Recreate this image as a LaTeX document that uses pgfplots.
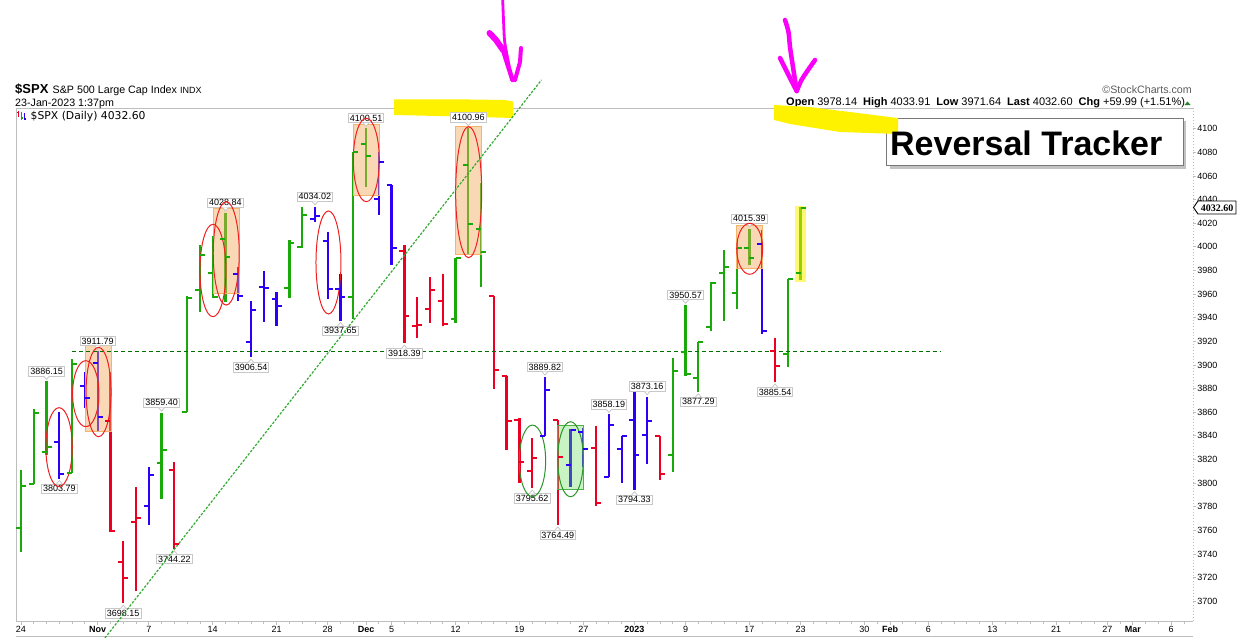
\documentclass[border=0pt]{standalone}
\usepackage{fontspec}
\setmainfont{Liberation Sans}
\newfontfamily\dvs{DejaVu Sans}
\newfontfamily\lsr{Liberation Serif}
\usepackage{pgfplots}
\pgfplotsset{compat=1.18}
\usepackage{pgfplotstable}

\definecolor{cgreen}{RGB}{25,170,10}
\definecolor{cred}{RGB}{235,0,35}
\definecolor{cblue}{RGB}{45,0,245}
\definecolor{frame}{RGB}{190,190,190}
\definecolor{labgray}{RGB}{200,200,200}
\definecolor{boxorange}{RGB}{242,170,90}
\definecolor{boxedge}{RGB}{245,180,105}
\definecolor{ellred}{RGB}{240,30,30}
\definecolor{ellgreen}{RGB}{40,150,40}
\definecolor{boxgreen}{RGB}{100,220,90}
\definecolor{pen}{RGB}{250,0,250}
\definecolor{trend}{RGB}{50,170,50}
\definecolor{hline}{RGB}{0,110,0}
\definecolor{copygray}{RGB}{90,90,90}
\definecolor{triup}{RGB}{40,130,40}
\definecolor{shadow}{RGB}{195,195,195}
\definecolor{tbox}{RGB}{120,120,120}

% open tick (left) and close tick (right)
\pgfdeclareplotmark{otick}{\pgfpathmoveto{\pgfpoint{-5bp}{0pt}}\pgfpathlineto{\pgfpoint{0pt}{0pt}}\pgfusepathqstroke}
\pgfdeclareplotmark{ctick}{\pgfpathmoveto{\pgfpoint{0pt}{0pt}}\pgfpathlineto{\pgfpoint{5bp}{0pt}}\pgfusepathqstroke}

\pgfplotsset{
  ohlcO/.style={only marks, mark=otick, mark options={draw=#1, line width=2bp},
    error bars/.cd, y dir=both, y explicit, error mark=none,
    error bar style={draw=#1, line width=2.3bp}},
  ohlcC/.style={only marks, mark=ctick, mark options={draw=#1, line width=2bp}},
}

% i = trading day from 24-Oct-2022
\pgfplotstableread{
i  O       H       L       C
0  3762.01 3810.74 3741.65 3797.34
1  3799.44 3862.85 3799.44 3859.11
2  3825.97 3886.15 3824.07 3830.60
4  3808.26 3905.42 3808.26 3901.06
11 3817.02 3859.40 3786.28 3828.11
13 3859.89 3958.33 3859.89 3956.37
14 3963.72 4001.48 3944.82 3992.93
15 3977.97 4008.97 3956.40 3957.25
16 4006.41 4028.84 3953.17 3991.73
21 3965.51 4005.88 3956.88 4003.58
22 4000.30 4033.78 3998.66 4027.26
26 3957.18 4080.11 3938.58 4080.11
27 4087.14 4100.51 4050.87 4076.57
34 3939.29 3990.71 3935.30 3990.56
35 4069.38 4100.96 3993.03 4019.65
36 4015.54 4053.76 3965.65 3995.32
51 3823.37 3906.19 3809.56 3895.08
52 3910.82 3950.57 3890.42 3892.09
53 3888.57 3919.83 3877.29 3919.25
54 3932.35 3970.07 3928.54 3969.61
55 3977.57 3997.76 3937.56 3983.17
56 3960.60 4003.95 3947.67 3999.09
57 3999.28 4015.39 3984.57 3990.97
60 3909.04 3972.96 3897.86 3972.61
61 3978.14 4033.91 3971.64 4032.60
}\greenbars

\pgfplotstableread{
i  O       H       L       C
3  3834.69 3859.95 3803.79 3807.30
5  3881.85 3893.73 3863.18 3871.98
6  3901.79 3911.79 3843.80 3856.10
10 3780.71 3813.95 3764.70 3806.80
17 3976.82 3983.09 3954.34 3958.79
18 3919.26 3954.33 3906.54 3946.56
19 3966.39 3979.89 3935.98 3965.34
20 3956.23 3962.00 3933.34 3949.94
23 4023.34 4034.02 4020.76 4026.12
24 4005.36 4012.27 3955.77 3963.94
25 3964.19 3976.77 3937.65 3957.63
28 4040.17 4080.48 4026.63 4071.70
29 4052.02 4052.45 3984.49 3998.84
41 3839.49 3889.82 3839.49 3878.44
43 3815.11 3845.80 3797.01 3844.82
44 3843.34 3846.65 3813.22 3829.25
46 3805.45 3858.19 3805.45 3849.28
47 3829.06 3839.85 3800.34 3839.50
48 3853.29 3878.46 3794.33 3824.14
49 3840.36 3873.16 3815.77 3852.97
58 4002.25 4014.16 3926.59 3928.86
}\bluebars

\pgfplotstableread{
i  O       H       L       C
7  3852.90 3894.44 3758.68 3759.69
8  3733.25 3750.59 3698.15 3719.89
9  3766.98 3796.34 3708.84 3770.55
12 3810.94 3818.20 3744.22 3748.57
30 3996.63 4001.51 3918.39 3941.26
31 3933.28 3957.57 3922.68 3933.92
32 3947.79 3974.19 3935.83 3963.51
33 3954.17 3977.02 3933.04 3934.38
37 3958.37 3958.37 3879.45 3895.75
38 3890.91 3890.91 3827.91 3852.36
39 3853.79 3854.86 3800.04 3817.66
40 3810.47 3838.24 3795.62 3821.62
42 3853.26 3853.26 3764.49 3822.39
45 3829.56 3848.32 3780.78 3783.22
50 3839.74 3839.74 3802.42 3808.10
59 3911.84 3922.94 3885.54 3898.85
}\redbars

\tikzset{lab/.style={draw=labgray, fill=white, line width=0.8bp, inner xsep=1.5bp, inner ysep=1.5bp,
  font=\fontsize{9bp}{10bp}\selectfont}}
% price labels above highs / below lows
\newcommand{\hi}[2]{\node[lab,anchor=south,yshift=5bp] (n) at (axis cs:#1,#2) {#2};
  \draw[labgray,fill=white,line width=0.8bp] ([xshift=-3bp,yshift=0.4bp]n.south) -- ++(3bp,-3.5bp) -- ++(3bp,3.5bp);}
\newcommand{\lo}[2]{\node[lab,anchor=north,yshift=-5bp] (n) at (axis cs:#1,#2) {#2};
  \draw[labgray,fill=white,line width=0.8bp] ([xshift=-3bp,yshift=-0.4bp]n.north) -- ++(3bp,3.5bp) -- ++(3bp,-3.5bp);}

\begin{document}
\begin{tikzpicture}
\path[use as bounding box] (0,0) rectangle (1250bp,-638bp);

\begin{scope}[x=1bp,y=-1bp]
\draw[frame, line width=1bp] (16,621.7) -- (16,108) -- (1193,108);
\draw[frame, line width=1bp] (16,621.7) -- (1193,621.7);
\draw[frame, line width=1bp] (16,636) -- (1193,636);
\draw[frame, line width=1bp, dotted] (1193,108) -- (1193,621.7);
% highlighter stroke near the December highs (under the labels)
\fill[yellow] (394,99.3) -- (470,99.5) -- (505,100) -- (513.3,101.5) -- (513.3,118) -- (460,116.5) -- (394,115) -- cycle;
\end{scope}

\begin{axis}[
  at={(16bp,-621.7bp)}, anchor=south west,
  scale only axis, width=1177bp, height=513.7bp,
  xmin=-0.39, xmax=91.71, ymin=3682.6, ymax=4117.6,
  axis line style={draw=none},
  clip=false,
  xtick={0,6,10,15,20,24,27,29,34,39,44,48,52,57,61,66,68,71,76,81,85,87,90},
  xticklabels={24,\textbf{Nov},7,14,21,28,\textbf{Dec},5,12,19,27,\textbf{2023},9,17,23,30,\textbf{Feb},6,13,21,27,\textbf{Mar},6},
  minor xtick={0,...,91},
  ytick={3700,3720,...,4100},
  xtick pos=left, ytick pos=right, yticklabel pos=right,
  tick align=outside,
  major tick length=3bp, minor tick length=2bp,
  every tick/.style={draw=frame, line width=0.8bp},
  scaled y ticks=false,
  ticklabel style={font=\fontsize{9bp}{10bp}\selectfont, text=black},
  xticklabel style={inner sep=1bp},
  yticklabel style={/pgf/number format/assume math mode=true,
    /pgf/number format/1000 sep={}, inner sep=1bp},
]
\addplot[ohlcO=cgreen] table[x=i, y=O, y error plus expr=\thisrow{H}-\thisrow{O}, y error minus expr=\thisrow{O}-\thisrow{L}] {\greenbars};
\addplot[ohlcC=cgreen] table[x=i, y=C] {\greenbars};
\addplot[ohlcO=cblue] table[x=i, y=O, y error plus expr=\thisrow{H}-\thisrow{O}, y error minus expr=\thisrow{O}-\thisrow{L}] {\bluebars};
\addplot[ohlcC=cblue] table[x=i, y=C] {\bluebars};
\addplot[ohlcO=cred] table[x=i, y=O, y error plus expr=\thisrow{H}-\thisrow{O}, y error minus expr=\thisrow{O}-\thisrow{L}] {\redbars};
\addplot[ohlcC=cred] table[x=i, y=C] {\redbars};

% highlight boxes
\draw[boxedge, line width=1bp, fill=boxorange, fill opacity=0.45] (axis cs:5.01,3918.4) rectangle (axis cs:7.10,3843.5);
\draw[boxedge, line width=1bp, fill=boxorange, fill opacity=0.45] (axis cs:15.05,4032.1) rectangle (axis cs:17.08,3960.1);
\draw[boxedge, line width=1bp, fill=boxorange, fill opacity=0.45] (axis cs:26.0,4103.8) rectangle (axis cs:28.04,4043.4);
\draw[boxedge, line width=1bp, fill=boxorange, fill opacity=0.45] (axis cs:34.0,4101.8) rectangle (axis cs:36.05,3993.7);
\draw[boxedge, line width=1bp, fill=boxorange, fill opacity=0.45] (axis cs:55.95,4017.7) rectangle (axis cs:58.04,3981.9);
\draw[boxgreen!80!black, line width=0.6bp, fill=boxgreen, fill opacity=0.35] (axis cs:42.0,3849.2) rectangle (axis cs:44.0,3794.7);
\fill[yellow, fill opacity=0.55] (axis cs:60.56,4034.7) rectangle (axis cs:61.40,3970.6);

% lines
\draw[hline, line width=1bp, dash pattern=on 4bp off 3bp] (axis cs:3.97,3911.79) -- (axis cs:71.9,3911.79);

% price labels
\hi{2}{3886.15} \hi{6}{3911.79} \hi{11}{3859.40} \hi{16}{4028.84}
\hi{23}{4034.02} \hi{27}{4100.51} \hi{35}{4100.96} \hi{41}{3889.82}
\hi{46}{3858.19} \hi{49}{3873.16} \hi{52}{3950.57} \hi{57}{4015.39}
\lo{3}{3803.79} \lo{8}{3698.15} \lo{12}{3744.22} \lo{18}{3906.54}
\lo{25}{3937.65} \lo{30}{3918.39} \lo{40}{3795.62} \lo{42}{3764.49}
\lo{48}{3794.33} \lo{53}{3877.29} \lo{59}{3885.54}

% ellipses (drawn over the labels)
\draw[ellred, line width=1bp] (axis cs:2.98,3830.4) ellipse [x radius=13.2bp, y radius=39.5bp];
\draw[ellred, line width=1bp] (axis cs:5.07,3875.7) ellipse [x radius=13.2bp, y radius=33bp];
\draw[ellred, line width=1bp] (axis cs:6.07,3877.1) ellipse [x radius=12.5bp, y radius=44.7bp];
\draw[ellred, line width=1bp] (axis cs:15.02,3980.0) ellipse [x radius=13bp, y radius=46.2bp];
\draw[ellred, line width=1bp] (axis cs:16.06,3994.5) ellipse [x radius=13bp, y radius=51.7bp];
\draw[ellred, line width=1bp] (axis cs:24.06,3986.8) ellipse [x radius=12.5bp, y radius=51.5bp];
\draw[ellred, line width=1bp] (axis cs:27.02,4073.6) ellipse [x radius=13bp, y radius=41.7bp];
\draw[ellred, line width=1bp] (axis cs:35.03,4046.3) ellipse [x radius=13bp, y radius=65.5bp];
\draw[ellred, line width=1bp] (axis cs:57.02,3998.4) ellipse [x radius=13bp, y radius=25.5bp];
\draw[ellgreen, line width=1bp] (axis cs:40.02,3818.8) ellipse [x radius=13.2bp, y radius=35.8bp];
\draw[ellgreen, line width=1bp] (axis cs:43.0,3820.2) ellipse [x radius=12.8bp, y radius=37.5bp];

\draw[trend, line width=1.2bp, dash pattern=on 2.5bp off 1.5bp] (axis cs:6.57,3668.8) -- (axis cs:40.73,4141.4);
\end{axis}

\begin{scope}[x=1bp,y=-1bp]
% header
\node[anchor=base west, inner sep=0, font=\bfseries\fontsize{13bp}{13bp}\selectfont] at (15,93.5) {\$SPX};
\node[anchor=base west, inner sep=0, font=\fontsize{10.7bp}{11bp}\selectfont] at (52.5,93.5) {S\&P 500 Large Cap Index};
\node[anchor=base west, inner sep=0, font=\fontsize{9bp}{10bp}\selectfont] at (180,93.5) {INDX};
\node[anchor=base west, inner sep=0, font=\fontsize{10.7bp}{11bp}\selectfont] at (15,106) {23-Jan-2023 1:37pm};
\node[anchor=base east, inner sep=0, text=copygray, font=\fontsize{10.7bp}{11bp}\selectfont] at (1192,93.5) {©StockCharts.com};
\node[anchor=base west, inner sep=0, font=\fontsize{11bp}{12bp}\selectfont] at (786,105.5)
  {\textbf{Open} 3978.14\hspace{6bp}\textbf{High} 4033.91\hspace{6bp}\textbf{Low} 3971.64\hspace{6bp}\textbf{Last} 4032.60\hspace{6bp}\textbf{Chg} +59.99 (+1.51\%)};
\fill[triup] (1184.5,105) -- (1190.5,105) -- (1187.5,101.5) -- cycle;

% in-plot legend
\draw[cred, line width=1.2bp] (18.5,111) -- (18.5,117) (17,112.5) -- (18.5,112.5);
\draw[cgreen, line width=1.2bp] (21.5,112) -- (21.5,120) (21.5,118) -- (23,118);
\draw[cblue, line width=1.2bp] (24.5,113) -- (24.5,120) (24.5,119) -- (26,119);
\node[anchor=base west, inner sep=0, font=\dvs\fontsize{10.8bp}{11bp}\selectfont] at (30.5,119) {\$SPX (Daily) 4032.60};

% last price marker
\draw[black, line width=0.9bp, fill=white] (1193.5,207.5) -- (1198,201) -- (1236,201) -- (1236,214) -- (1198,214) -- cycle;
\node[anchor=center, inner sep=0, font=\lsr\bfseries\fontsize{10bp}{10bp}\selectfont] at (1217,207.8) {4032.60};

% title box
\fill[shadow] (889.7,121.3) rectangle (1186.3,168.7);
\draw[tbox, fill=white, line width=1bp] (886.7,118.3) rectangle (1183.3,165.7);

% highlighter stroke under the quote line
\fill[yellow] (774,105) -- (810,107) -- (850,112) -- (898,118) -- (898,134) -- (840,132) -- (790,124) -- (774,120) -- cycle;

\node[anchor=base west, inner sep=0, font=\bfseries\fontsize{34bp}{34bp}\selectfont] at (890,155) {Reversal Tracker};

% pen arrows
\draw[pen, line width=2.8bp, line cap=round] plot[smooth] coordinates {(502.7,0) (503.5,20) (504.5,40) (507,55) (512,80)};
\draw[pen, line width=6bp, line cap=round, line join=round] (489.5,33) -- (496,40) -- (503,50);
\draw[pen, line width=4.5bp, line cap=round] (503,50) -- (512.5,80);
\draw[pen, line width=4bp, line cap=round, line join=round] (521,48) -- (520,62) -- (515,80);
\draw[pen, line width=4.5bp, line cap=round, line join=round] plot[smooth] coordinates {(785,20) (788.5,32) (790,47) (793,67) (796.7,91)};
\draw[pen, line width=4.5bp, line cap=round, line join=round] plot[smooth] coordinates {(780,58) (785,68) (791.5,81) (796.7,91)};
\draw[pen, line width=4.5bp, line cap=round, line join=round] plot[smooth] coordinates {(815,60) (807,71.5) (801.5,80) (796.7,91)};
\end{scope}
\end{tikzpicture}
\end{document}
